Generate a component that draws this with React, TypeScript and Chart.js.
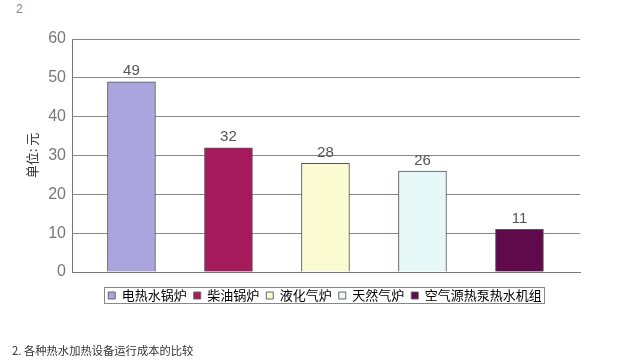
import React, { useEffect, useRef } from "react";
import { Chart, registerables } from "chart.js";

Chart.register(...registerables);

const categories = ["电热水锅炉", "柴油锅炉", "液化气炉", "天然气炉", "空气源热泵热水机组"];
const values = [49, 32, 28, 26, 11];
const barColors = ["#aaa6dd", "#a51a5a", "#fbfbd2", "#e6f8f8", "#600a4c"];
const yTicks = [0, 10, 20, 30, 40, 50, 60];
const yTitle = "单位: 元";
const pageLabel = "2";
const caption = "2. 各种热水加热设备运行成本的比较";

const NUM_FONT = "'Liberation Sans', Arial, sans-serif";
const CJK_FONT = "'Noto Sans CJK SC', 'Liberation Sans', sans-serif";

const LEGEND_CENTER = 325;

const valueLabelPlugin = {
  id: "valueLabels",
  afterDatasetsDraw(chart: any) {
    const ctx = chart.ctx;
    const meta = chart.getDatasetMeta(0);
    ctx.save();
    ctx.font = `15px ${NUM_FONT}`;
    ctx.fillStyle = "#555";
    ctx.textAlign = "center";
    ctx.textBaseline = "bottom";
    meta.data.forEach((bar: any, i: number) => {
      ctx.fillText(String(values[i]), bar.x, bar.y - 3);
    });
    ctx.restore();
  },
};

const yTitlePlugin = {
  id: "yTitle",
  afterDraw(chart: any) {
    const { left, top, bottom } = chart.chartArea;
    const ctx = chart.ctx;
    ctx.save();
    ctx.translate(left - 40, (top + bottom) / 2);
    ctx.rotate(-Math.PI / 2);
    ctx.font = `13px ${CJK_FONT}`;
    ctx.fillStyle = "#333";
    ctx.textAlign = "center";
    ctx.textBaseline = "middle";
    ctx.fillText(yTitle, 0, 0);
    ctx.restore();
  },
};

const legendBoxPlugin = {
  id: "legendBox",
  beforeDraw(chart: any) {
    const lg = chart.legend;
    if (!lg || !lg.legendHitBoxes || !lg.legendHitBoxes.length) return;
    const boxes = lg.legendHitBoxes;
    let l = Infinity, r = -Infinity;
    boxes.forEach((h: any) => {
      l = Math.min(l, h.left);
      r = Math.max(r, h.left + h.width);
    });
    const d = LEGEND_CENTER - (l + r) / 2;
    if (Math.abs(d) > 0.01) {
      lg.left += d;
      lg.right += d;
      boxes.forEach((h: any) => {
        h.left += d;
      });
    }
  },
  afterDraw(chart: any) {
    const lg = chart.legend;
    if (!lg || !lg.legendHitBoxes || !lg.legendHitBoxes.length) return;
    const boxes = lg.legendHitBoxes;
    let l = Infinity, r = -Infinity, t = Infinity, b = -Infinity;
    boxes.forEach((h: any) => {
      l = Math.min(l, h.left);
      r = Math.max(r, h.left + h.width);
      t = Math.min(t, h.top);
      b = Math.max(b, h.top + h.height);
    });
    const ctx = chart.ctx;
    ctx.save();
    ctx.strokeStyle = "#888";
    ctx.lineWidth = 1;
    ctx.strokeRect(Math.round(l - 4) + 0.5, Math.round(t - 2) + 0.5, Math.round(r - l + 6), Math.round(b - t + 3));
    ctx.restore();
  },
};

export default function App() {
  const ref = useRef<HTMLCanvasElement | null>(null);

  useEffect(() => {
    document.body.style.margin = "0";
    const canvas = ref.current!;
    const chart = new Chart(canvas, {
      type: "bar",
      data: {
        datasets: [
          {
            data: categories.map((_, i) => ({ x: i, y: values[i] })) as any,
            backgroundColor: barColors,
            borderColor: "#555",
            borderWidth: 1,
            barThickness: 48,
          },
        ],
      },
      options: {
        animation: false,
        responsive: false,
        maintainAspectRatio: false,
        layout: { padding: { left: 0, right: 44, top: 39, bottom: 48 } },
        plugins: {
          tooltip: { enabled: false },
          legend: {
            position: "bottom",
            labels: {
              boxWidth: 7,
              boxHeight: 7,
              padding: 7,
              color: "#333",
              font: { family: CJK_FONT, size: 13 },
              generateLabels: () =>
                categories.map((c, i) => ({
                  text: c,
                  fillStyle: barColors[i],
                  strokeStyle: "#666",
                  lineWidth: 1,
                  hidden: false,
                  index: i,
                  datasetIndex: 0,
                })) as any,
            },
          },
        },
        scales: {
          x: {
            type: "linear",
            offset: false,
            min: -0.613,
            max: 4.624,
            ticks: { display: false },
            grid: { display: false, drawTicks: false },
            border: { display: true, color: "#777", width: 1 },
            afterFit: (scale: any) => {
              scale.height = 10;
            },
          },
          y: {
            min: 0,
            max: 60,
            afterBuildTicks: (scale: any) => {
              scale.ticks = yTicks.map((v) => ({ value: v }));
            },
            afterFit: (scale: any) => {
              scale.width = 72;
            },
            ticks: {
              color: "#777",
              padding: 6,
              font: { family: NUM_FONT, size: 16 },
            },
            grid: { color: "#888", lineWidth: 1, drawTicks: false },
            border: { display: true, color: "#777", width: 1 },
            title: { display: false },
          },
        },
      },
      plugins: [valueLabelPlugin, legendBoxPlugin, yTitlePlugin],
    });
    return () => chart.destroy();
  }, []);

  return (
    <div style={{ position: "relative", width: 624, height: 360, background: "#fff", overflow: "hidden" }}>
      <div
        style={{
          position: "absolute",
          left: 16,
          top: 2,
          fontFamily: NUM_FONT,
          fontSize: 12,
          color: "#888",
        }}
      >
        {pageLabel}
      </div>
      <canvas ref={ref} width={624} height={360} style={{ position: "absolute", left: 0, top: 0 }} />
      <div
        style={{
          position: "absolute",
          left: 12,
          top: 342,
          fontFamily: CJK_FONT,
          fontSize: 11.3,
          color: "#333",
          whiteSpace: "nowrap",
        }}
      >
        {caption}
      </div>
    </div>
  );
}
